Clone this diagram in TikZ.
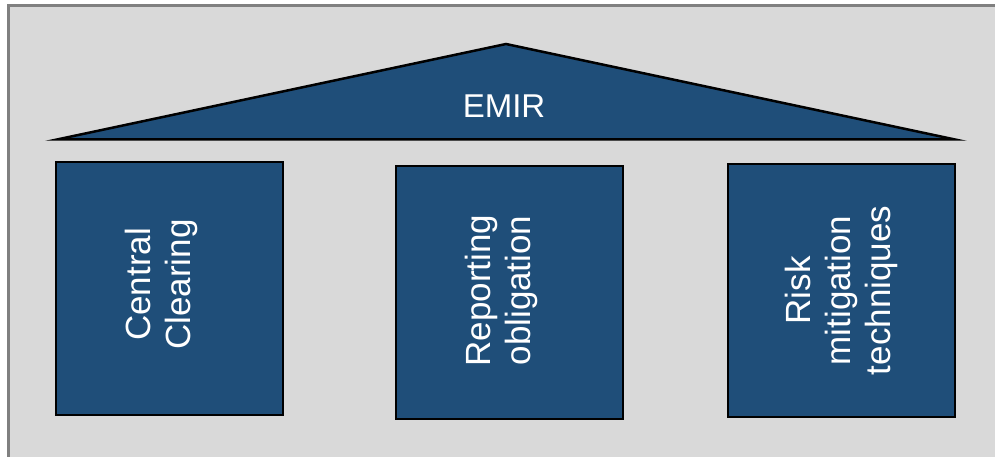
\documentclass[tikz,border=0pt]{standalone}
\usepackage{fontspec}
\setmainfont{Liberation Sans}
\definecolor{bg}{HTML}{D9D9D9}
\definecolor{frame}{HTML}{808080}
\definecolor{pillarblue}{HTML}{1F4E79}
\begin{document}
\begin{tikzpicture}[x=1pt,y=-1pt,
  pillar/.style={draw=black, line width=2.5pt, fill=pillarblue,
    minimum width=227pt, minimum height=253pt, inner sep=0pt},
  pillartext/.style={rotate=90, text=white, align=center, inner sep=0pt,
    font=\fontsize{35}{40}\selectfont},
  roof/.style={draw=black, line width=2.5pt, fill=pillarblue, line join=miter}]
\useasboundingbox (0,0) rectangle (995,457);
\fill[white] (0,0) rectangle (995,457);
\draw[frame, line width=3pt, fill=bg] (8,6) rectangle (1010,470);
\draw[roof] (57,139.5) -- (506,44) -- (955,139.5) -- cycle;
\node[text=white, font=\fontsize{33}{38}\selectfont] (emir) at (504,106) {EMIR};
\node[pillar] (b1) at (169.5,288.5) {};
\node[pillar] (b2) at (509.5,292.5) {};
\node[pillar] (b3) at (841.5,290.5) {};
\node[pillartext] (t1) at ([xshift=-8pt,yshift=4pt]b1.center) {Central\\Clearing};
\node[pillartext] (t2) at ([xshift=-8pt,yshift=2pt]b2.center) {Reporting\\obligation};
\node[pillartext] (t3) at ([xshift=0pt]b3.center) {Risk\\mitigation\\techniques};
\end{tikzpicture}
\end{document}
